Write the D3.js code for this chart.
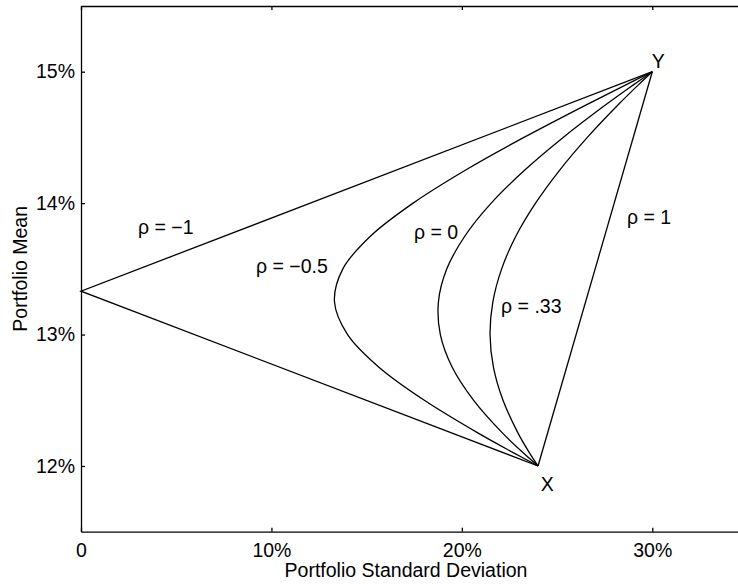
<!DOCTYPE html>
<html>
<head>
<meta charset="utf-8">
<script src="https://cdn.jsdelivr.net/npm/d3@7"></script>
<style>
  body { margin: 0; background: #fff; }
  svg { display: block; font-family: "Liberation Sans", Arial, sans-serif; }
</style>
</head>
<body>
<svg id="chart" width="738" height="584"></svg>
<script>
// portfolio mean (%) at which each frontier was read
var means = [12, 12.1, 12.25, 12.5, 12.75, 13, 13.25, 13.5, 13.75, 14, 14.25, 14.5, 14.75, 14.9, 15];
// portfolio std dev (%)
var sdRhoNegHalf = [24, 22.72, 20.86, 18.03, 15.66, 14.0, 13.31, 13.75, 15.21, 17.44, 20.18, 23.26, 26.56, 28.61, 30];
var sdRhoZero    = [24, 23.22, 22.14, 20.62, 19.50, 18.87, 18.77, 19.21, 20.16, 21.54, 23.29, 25.32, 27.57, 29.01, 30];
var sdRhoThird   = [24, 23.55, 22.95, 22.16, 21.66, 21.48, 21.63, 22.09, 22.84, 23.87, 25.13, 26.59, 28.22, 29.27, 30];
// straight-line cases
var meansNegOne = [12, 13.33, 15];
var sdRhoNegOne = [24, 0, 30];
var meansPosOne = [12, 15];
var sdRhoPosOne = [24, 30];

var xTicks = [0, 10, 20, 30];
var yTicks = [12, 13, 14, 15];

var labelText = ["ρ = −1", "ρ = −0.5", "ρ = 0", "ρ = .33", "ρ = 1", "Y", "X"];
var labelSd   = [2.99, 9.19, 17.49, 22.06, 28.67, 29.97, 24.14];
var labelMean = [13.765, 13.47, 13.727, 13.164, 13.841, 15.026, 11.811];

var svg = d3.select("#chart");
var padL = 81, padT = 6, padB = 531.7;
var fs = "19.5px";

var x = d3.scaleLinear().domain([0, 35]).range([padL, padL + 35 * 19.043]);
var y = d3.scaleLinear().domain([11.5, 15.5]).range([padB, padT]);

svg.append("rect").attr("width", 738).attr("height", 584).attr("fill", "#fff");

// axes, ticks pointing inward
var gx = svg.append("g").attr("transform", "translate(0," + padB + ")")
  .call(d3.axisBottom(x).tickValues(xTicks).tickSizeInner(-4).tickSizeOuter(0).tickPadding(11)
    .tickFormat(function(d) { return d === 0 ? "0" : d + "%"; }));
var gxt = svg.append("g").attr("transform", "translate(0," + padT + ")")
  .call(d3.axisTop(x).tickValues(xTicks).tickSizeInner(-4).tickSizeOuter(0).tickFormat(""));
var gy = svg.append("g").attr("transform", "translate(" + padL + ",0)")
  .call(d3.axisLeft(y).tickValues(yTicks).tickSizeInner(-4).tickSizeOuter(0).tickPadding(6)
    .tickFormat(function(d) { return d + "%"; }));
var gyr = svg.append("g").attr("transform", "translate(" + x(35) + ",0)")
  .call(d3.axisRight(y).tickValues(yTicks).tickSizeInner(-4).tickSizeOuter(0).tickFormat(""));

[gx, gxt, gy, gyr].forEach(function(g) {
  g.selectAll("path, line").attr("stroke", "#000").attr("stroke-width", 1.3);
  g.selectAll("text").attr("fill", "#000").style("font-size", fs).style("font-family", "Liberation Sans, Arial, sans-serif");
});

var line = d3.line()
  .x(function(d) { return x(d[0]); })
  .y(function(d) { return y(d[1]); });
var smooth = d3.line()
  .x(function(d) { return x(d[0]); })
  .y(function(d) { return y(d[1]); })
  .curve(d3.curveCatmullRom.alpha(0.5));

var curves = [sdRhoNegHalf, sdRhoZero, sdRhoThird];
curves.forEach(function(sd) {
  svg.append("path")
    .datum(sd.map(function(s, i) { return [s, means[i]]; }))
    .attr("d", smooth)
    .attr("fill", "none").attr("stroke", "#000").attr("stroke-width", 1.3);
});

svg.append("path")
  .datum(sdRhoNegOne.map(function(s, i) { return [s, meansNegOne[i]]; }))
  .attr("d", line).attr("fill", "none").attr("stroke", "#000").attr("stroke-width", 1.3);
svg.append("path")
  .datum(sdRhoPosOne.map(function(s, i) { return [s, meansPosOne[i]]; }))
  .attr("d", line).attr("fill", "none").attr("stroke", "#000").attr("stroke-width", 1.3);

svg.selectAll("text.lbl")
  .data(labelText)
  .enter()
  .append("text")
  .attr("class", "lbl")
  .attr("x", function(d, i) { return x(labelSd[i]); })
  .attr("y", function(d, i) { return y(labelMean[i]); })
  .style("font-size", fs)
  .text(function(d) { return d; });

// axis titles
svg.append("text")
  .attr("x", 406).attr("y", 577)
  .attr("text-anchor", "middle")
  .style("font-size", fs)
  .text("Portfolio Standard Deviation");
svg.append("text")
  .attr("transform", "translate(27," + y(13.5) + ") rotate(-90)")
  .attr("text-anchor", "middle")
  .style("font-size", fs)
  .text("Portfolio Mean");
</script>
</body>
</html>
